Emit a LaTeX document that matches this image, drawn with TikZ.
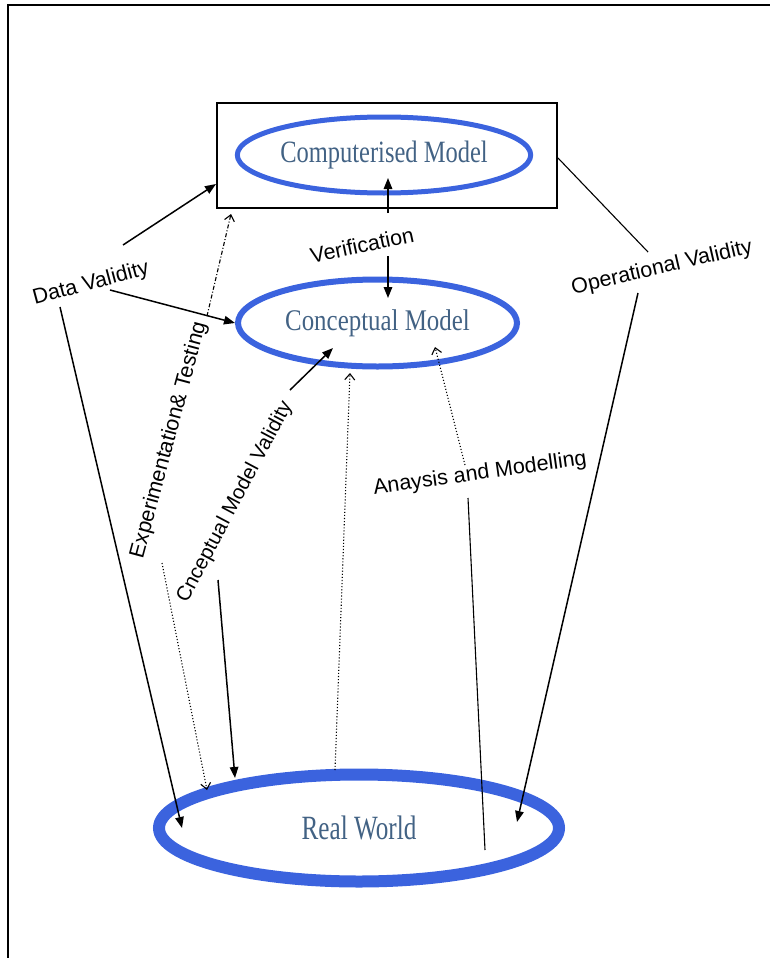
\documentclass[tikz,border=0pt]{standalone}
\usepackage{fontspec}
\setmainfont{Liberation Serif}
\newfontfamily\labfont{Liberation Sans}
\usetikzlibrary{shapes.geometric,arrows.meta}
\definecolor{ellblue}{RGB}{59,99,222}
\definecolor{mtext}{RGB}{66,98,132}
\begin{document}
\begin{tikzpicture}[x=1pt,y=-1pt,
  ell/.style={ellipse,draw=ellblue,inner sep=0pt,text=mtext},
  lbl/.style={font=\labfont\fontsize{21.5}{24}\selectfont,inner sep=1pt},
  sol/.style={line width=1.5pt,-{Triangle[length=11pt,width=8.5pt]}},
  dotarrow/.style={line width=1.1pt,dotted,-{Straight Barb[length=6pt,width=10pt]}},
  dasharrow/.style={line width=1.1pt,dash pattern=on 4pt off 2pt on 1pt off 2pt,-{Straight Barb[length=6pt,width=10pt]}},
  plain/.style={line width=1.1pt}
]
\useasboundingbox (0,0) rectangle (770,958);
% outer frame (cut at right and bottom)
\draw[line width=2.2pt] (8,958) -- (8,5) -- (770,5);

% boxes and ellipses
\node[draw,line width=1.4pt,minimum width=340pt,minimum height=105pt,inner sep=0pt] (rect) at (387,155.5) {};
\node[ell,line width=5pt,minimum width=277pt,minimum height=76pt] (cm) at (384,155)
  {\raisebox{3pt}{\scalebox{0.79}[1]{\fontsize{31}{31}\selectfont Computerised Model}}};
\node[ell,line width=6pt,minimum width=279pt,minimum height=87pt] (cp) at (377.5,323)
  {\raisebox{4pt}{\scalebox{0.83}[1]{\fontsize{30}{30}\selectfont Conceptual Model}}};
\node[ell,line width=12pt,minimum width=400pt,minimum height=107pt] (rw) at (359,828)
  {\scalebox{0.74}[1]{\fontsize{34}{34}\selectfont Real World}};

% labels
\node[lbl,rotate=15] (dv) at (91,284) {Data Validity};
\node[lbl,rotate=12] (ver) at (362,245) {Verification};
\node[lbl,rotate=13] (ov) at (662,268) {Operational Validity};
\node[lbl,rotate=75] (et) at (169,440) {Experimentation\& Testing};
\node[lbl,rotate=62,font=\labfont\fontsize{20.5}{23}\selectfont] (cmv) at (235,502) {Cnceptual Model Validity};
\node[lbl,rotate=8] (am) at (480,474) {Anaysis and Modelling};

% connector end points
\coordinate (v1) at (388,213);
\coordinate (vtop) at (388,178);
\coordinate (v2) at (388,256);
\coordinate (vbot) at (388,298);
\coordinate (dva) at (123,245);
\coordinate (rectin) at (216,184);
\coordinate (dvb) at (110,290);
\coordinate (dvc) at (60,307);
\coordinate (rwa) at (182,828);
\coordinate (eta) at (207,316);
\coordinate (rectb) at (231,214);
\coordinate (etb) at (162,563);
\coordinate (rwb) at (207,790);
\coordinate (cmva) at (290,390);
\coordinate (cpa) at (333,348);
\coordinate (cmvb) at (218,580);
\coordinate (rwc) at (235,778);
\coordinate (rwtop) at (335,770);
\coordinate (cpb) at (350,373);
\coordinate (ama) at (465,465);
\coordinate (cpc) at (435,347);
\coordinate (amb) at (468,498);
\coordinate (rwd) at (485,850);
\coordinate (recte) at (558,158);
\coordinate (ova) at (648,252);
\coordinate (ovb) at (638,293);
\coordinate (rwe) at (517,822);

% connectors
\draw[sol] (v1) -- (vtop);
\draw[sol] (v2) -- (vbot);
\draw[sol] (dva) -- (rectin);
\draw[sol] (dvb) -- (cp.west);
\draw[sol] (dvc) -- (rwa);
\draw[dasharrow] (eta) -- (rectb);
\draw[dotarrow] (etb) -- (rwb);
\draw[sol] (cmva) -- (cpa);
\draw[sol] (cmvb) -- (rwc);
\draw[dotarrow] (rwtop) -- (cpb);
\draw[dotarrow] (ama) -- (cpc);
\draw[plain] (amb) -- (rwd);
\draw[plain] (recte) -- (ova);
\draw[sol] (ovb) -- (rwe);
\end{tikzpicture}
\end{document}
